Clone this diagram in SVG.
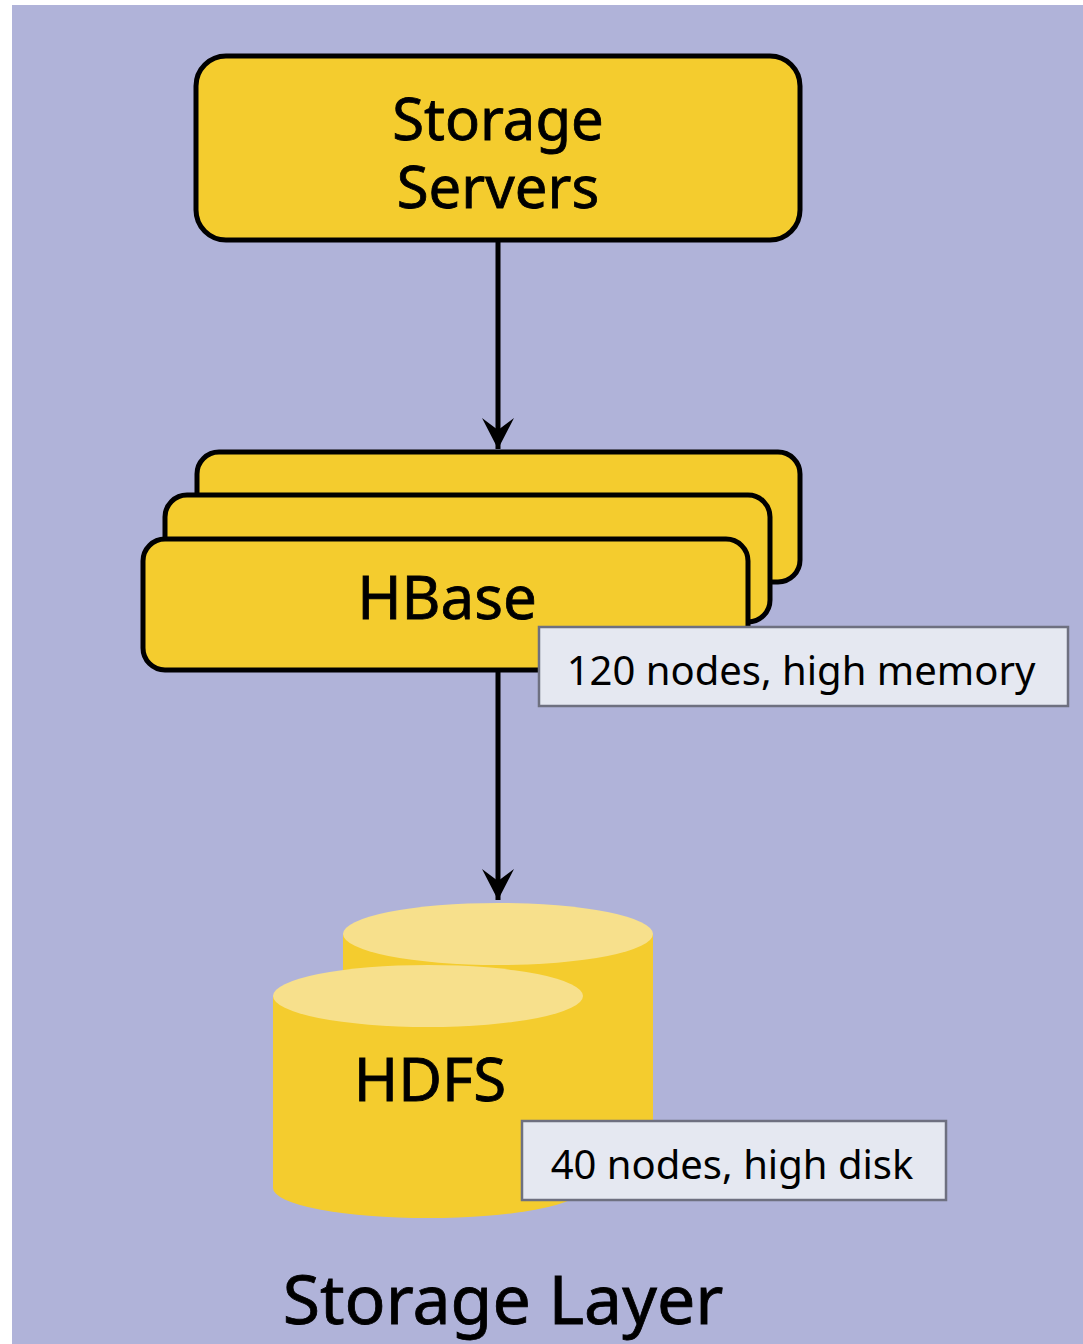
<svg xmlns="http://www.w3.org/2000/svg" width="1083" height="1344" viewBox="0 0 1083 1344">
<defs>
<style>
.box{fill:#F4CC2E;stroke:#000;stroke-width:5}
.t{font-family:"Noto Sans","Open Sans","DejaVu Sans",sans-serif;fill:#000}
.h{stroke:#000;stroke-width:0.8}
.lbl{fill:#E5E8F1;stroke:#6E7080;stroke-width:2.5}
.body{fill:#F4CC2E}
.top{fill:#F7E08C}
.edge{stroke:#000;stroke-width:5;fill:none}
</style>
<marker id="ah" markerUnits="userSpaceOnUse" markerWidth="40" markerHeight="40" viewBox="-36 -20 40 40" refX="0" refY="0" orient="auto">
<path d="M0,0 L-31,-16 L-19,0 L-31,16 Z" fill="#000"/>
</marker>
</defs>
<rect x="0" y="0" width="1083" height="1344" fill="#fff"/>
<rect x="12" y="5" width="1071" height="1339" fill="#B0B3D9"/>
<g id="edges">
<path class="edge" d="M498,242 V449" marker-end="url(#ah)"/>
<path class="edge" d="M498,672 V900" marker-end="url(#ah)"/>
</g>
<g id="storage-servers">
<rect class="box" x="196" y="56" width="604" height="184" rx="30"/>
<text class="t h" x="498" y="140" font-size="58" text-anchor="middle">Storage</text>
<text class="t h" x="498" y="208" font-size="58" text-anchor="middle">Servers</text>
</g>
<g id="hbase">
<rect class="box" x="197" y="452" width="603" height="130" rx="22"/>
<rect class="box" x="165" y="495" width="605" height="127" rx="22"/>
<rect class="box" x="143" y="539" width="605" height="131" rx="22"/>
<text class="t h" x="447" y="619" font-size="60" text-anchor="middle">HBase</text>
</g>
<g id="hbase-label">
<rect class="lbl" x="539" y="627" width="529" height="79"/>
<text class="t" x="801" y="685" font-size="40" text-anchor="middle">120 nodes, high memory</text>
</g>
<g id="hdfs">
<path class="body" d="M343,934 L343,1128 A155,30 0 0 0 653,1128 L653,934 Z"/>
<ellipse class="top" cx="498" cy="934" rx="155" ry="31"/>
<path class="body" d="M273,996 L273,1188 A155,30 0 0 0 583,1188 L583,996 Z"/>
<ellipse class="top" cx="428" cy="996" rx="155" ry="31"/>
<text class="t h" x="430" y="1101" font-size="60" text-anchor="middle">HDFS</text>
</g>
<g id="hdfs-label">
<rect class="lbl" x="522" y="1121" width="424" height="79"/>
<text class="t" x="732" y="1179" font-size="40" text-anchor="middle">40 nodes, high disk</text>
</g>
<text class="t h" x="503" y="1324" font-size="68" text-anchor="middle">Storage Layer</text>
</svg>
